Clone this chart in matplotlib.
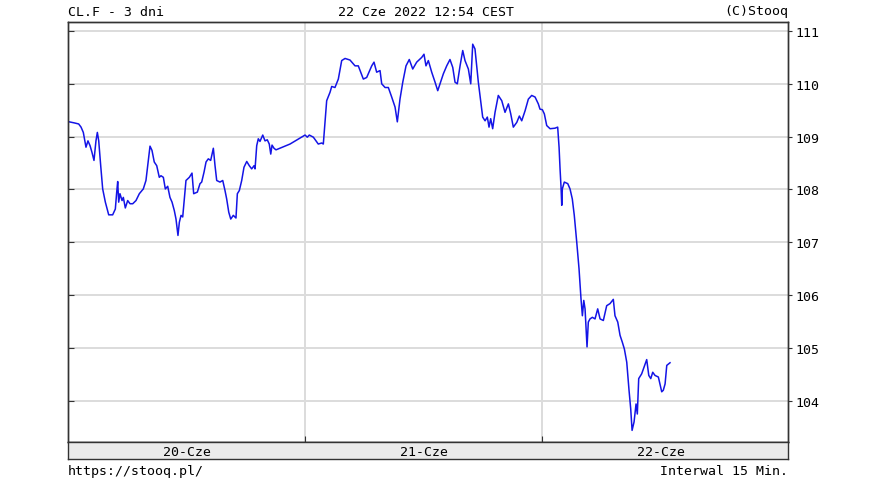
import matplotlib
matplotlib.use("Agg")
import matplotlib.pyplot as plt

# hours since 20-Cze 00:00, 15 min quotes
hours = [0.13, 0.64, 1.08, 1.32, 1.55, 1.82, 2.02, 2.23, 2.43, 2.63,
         2.83, 2.97, 3.11, 3.31, 3.51, 3.78, 4.12, 4.52, 4.79, 4.93,
         5.03, 5.13, 5.26, 5.47, 5.60, 5.80, 6.04, 6.28, 6.55, 6.88,
         7.22, 7.62, 7.89, 8.07, 8.30, 8.50, 8.73, 8.98, 9.24, 9.41,
         9.65, 9.85, 10.09, 10.32, 10.53, 10.76, 10.93, 11.13, 11.27, 11.44,
         11.61, 11.77, 11.94, 12.28, 12.55, 12.72, 13.09, 13.36, 13.53, 13.77,
         13.97, 14.20, 14.44, 14.71, 14.88, 15.05, 15.38, 15.66, 15.89, 16.06,
         16.27, 16.47, 16.73, 17.00, 17.14, 17.34, 17.58, 17.81, 18.09, 18.35,
         18.59, 18.83, 18.93, 19.10, 19.26, 19.43, 19.71, 19.94, 20.17, 20.37,
         20.52, 20.65, 20.85, 21.05, 22.47, 23.99, 24.22, 24.42, 24.83, 25.33,
         25.68, 25.84, 26.01, 26.18, 26.52, 26.69, 27.02, 27.36, 27.70, 28.04,
         28.54, 29.05, 29.38, 29.89, 30.23, 30.74, 30.97, 31.24, 31.58, 31.75,
         32.09, 32.42, 32.76, 33.10, 33.33, 33.60, 33.88, 34.21, 34.54, 34.89,
         35.29, 35.80, 36.03, 36.23, 36.47, 36.81, 37.15, 37.42, 37.65, 37.99,
         38.33, 38.66, 38.94, 39.17, 39.40, 39.68, 39.95, 40.18, 40.52, 40.76,
         40.96, 41.19, 41.53, 41.70, 41.97, 42.21, 42.44, 42.61, 42.78, 42.98,
         43.22, 43.55, 43.90, 44.23, 44.57, 44.81, 45.07, 45.42, 45.68, 45.92,
         46.26, 46.59, 46.93, 47.27, 47.60, 47.77, 48.01, 48.21, 48.45, 48.79,
         49.29, 49.56, 49.70, 49.80, 49.90, 49.97, 50.03, 50.23, 50.58, 50.81,
         51.04, 51.24, 51.49, 51.72, 51.92, 52.06, 52.20, 52.33, 52.53, 52.66,
         52.83, 53.07, 53.34, 53.61, 53.85, 54.18, 54.52, 54.86, 55.19, 55.36,
         55.64, 55.87, 56.10, 56.31, 56.55, 56.78, 56.95, 57.09, 57.29, 57.49,
         57.62, 57.76, 58.06, 58.30, 58.57, 58.78, 58.98, 59.18, 59.41, 59.75,
         60.09, 60.25, 60.43, 60.60, 60.93]

price = [109.28, 109.26, 109.24, 109.18, 109.08, 108.80, 108.92, 108.83, 108.70, 108.55,
         108.92, 109.08, 108.92, 108.45, 108.01, 107.76, 107.52, 107.52, 107.63, 107.95,
         108.15, 107.76, 107.92, 107.79, 107.85, 107.65, 107.79, 107.73, 107.73, 107.79,
         107.92, 108.01, 108.17, 108.45, 108.82, 108.74, 108.52, 108.45, 108.23, 108.26,
         108.23, 108.01, 108.06, 107.85, 107.76, 107.60, 107.44, 107.13, 107.38, 107.51,
         107.48, 107.82, 108.17, 108.23, 108.31, 107.92, 107.95, 108.11, 108.14, 108.33,
         108.52, 108.58, 108.55, 108.78, 108.45, 108.17, 108.14, 108.17, 107.98, 107.82,
         107.57, 107.44, 107.51, 107.46, 107.92, 107.98, 108.17, 108.42, 108.53, 108.45,
         108.39, 108.45, 108.39, 108.83, 108.96, 108.91, 109.03, 108.92, 108.94, 108.86,
         108.67, 108.84, 108.78, 108.75, 108.86, 109.03, 108.99, 109.03, 108.99, 108.86,
         108.88, 108.86, 109.27, 109.68, 109.84, 109.95, 109.93, 110.09, 110.44, 110.48,
         110.45, 110.34, 110.34, 110.09, 110.12, 110.34, 110.41, 110.22, 110.25, 110.00,
         109.93, 109.93, 109.75, 109.56, 109.28, 109.71, 110.03, 110.34, 110.46, 110.28,
         110.41, 110.50, 110.56, 110.34, 110.44, 110.22, 110.03, 109.87, 110.00, 110.19,
         110.34, 110.46, 110.31, 110.03, 110.00, 110.34, 110.63, 110.44, 110.28, 110.00,
         110.75, 110.66, 110.03, 109.78, 109.37, 109.30, 109.37, 109.18, 109.34, 109.15,
         109.46, 109.78, 109.68, 109.46, 109.62, 109.43, 109.18, 109.27, 109.39, 109.30,
         109.49, 109.71, 109.78, 109.75, 109.62, 109.52, 109.51, 109.43, 109.21, 109.15,
         109.16, 109.18, 108.80, 108.39, 108.04, 107.70, 108.01, 108.14, 108.11, 108.01,
         107.82, 107.51, 107.00, 106.50, 105.93, 105.61, 105.90, 105.74, 105.02, 105.49,
         105.55, 105.58, 105.55, 105.74, 105.55, 105.52, 105.80, 105.84, 105.92, 105.61,
         105.49, 105.24, 105.11, 104.98, 104.73, 104.20, 103.85, 103.44, 103.60, 103.94,
         103.75, 104.42, 104.51, 104.64, 104.78, 104.48, 104.42, 104.54, 104.48, 104.45,
         104.17, 104.20, 104.32, 104.67, 104.72]

y_ticks = [104, 105, 106, 107, 108, 109, 110, 111]
day_bounds = [24, 48]
day_centers = [12, 36, 60]
day_labels = ["20-Cze", "21-Cze", "22-Cze"]

W, H = 875, 485
LEFT, RIGHT, TOP, BOTTOM, STRIP = 68, 788, 23, 443, 460
FONT = "DejaVu Sans Mono"
XMAX = 72.87
YMIN, YMAX = 103.22, 111.17

fig = plt.figure(figsize=(W / 100, H / 100), dpi=100)
fig.patch.set_facecolor("white")

ax = fig.add_axes([LEFT / W, 1 - BOTTOM / H, (RIGHT - LEFT) / W, (BOTTOM - TOP) / H])
ax.plot(hours, price, color="#1414e6", lw=1.1)
ax.set_xlim(0, XMAX)
ax.set_ylim(YMIN, YMAX)

# left side: short ticks pointing in, no labels
ax.set_yticks(y_ticks)
ax.set_yticklabels([])
ax.tick_params(axis="y", direction="in", length=4, width=0.8, color="#333333")
ax.set_xticks(day_bounds)
ax.set_xticklabels([])
ax.tick_params(axis="x", direction="in", length=4, width=0.8, color="#333333")
ax.grid(True, color="#dcdcdc", lw=1.4)
ax.set_axisbelow(True)
for s in ax.spines.values():
    s.set_color("#333333")
    s.set_linewidth(1.0)

# right side: price labels with outward ticks
rx = ax.twinx()
rx.set_ylim(YMIN, YMAX)
rx.set_yticks(y_ticks)
rx.set_yticklabels([str(t) for t in y_ticks], fontsize=9.5, family=FONT)
rx.tick_params(axis="y", direction="out", length=3, width=0.8, color="#333333", pad=2)
for s in rx.spines.values():
    s.set_color("#333333")
    s.set_linewidth(1.0)

# date strip under the plot
sx = fig.add_axes([LEFT / W, 1 - STRIP / H, (RIGHT - LEFT) / W, (STRIP - BOTTOM) / H])
sx.set_facecolor("#ebebeb")
sx.set_xlim(0, XMAX)
sx.set_ylim(0, 1)
sx.set_xticks([])
sx.set_yticks([])
for s in sx.spines.values():
    s.set_color("#333333")
    s.set_linewidth(1.0)
for c, lab in zip(day_centers, day_labels):
    sx.text(c, 0.45, lab, ha="center", va="center", fontsize=9.5, family=FONT)

fig.text(LEFT / W, 1 - 12 / H, "CL.F - 3 dni", ha="left", va="center", fontsize=9.5, family=FONT)
fig.text(426 / W, 1 - 12 / H, "22 Cze 2022 12:54 CEST", ha="center", va="center", fontsize=9.5, family=FONT)
fig.text(RIGHT / W, 1 - 12 / H, "(C)Stooq", ha="right", va="center", fontsize=9.5, family=FONT)
fig.text(LEFT / W, 1 - 472 / H, "https://stooq.pl/", ha="left", va="center", fontsize=9.5, family=FONT)
fig.text(RIGHT / W, 1 - 472 / H, "Interwal 15 Min.", ha="right", va="center", fontsize=9.5, family=FONT)

fig.savefig("out.png", dpi=100)
